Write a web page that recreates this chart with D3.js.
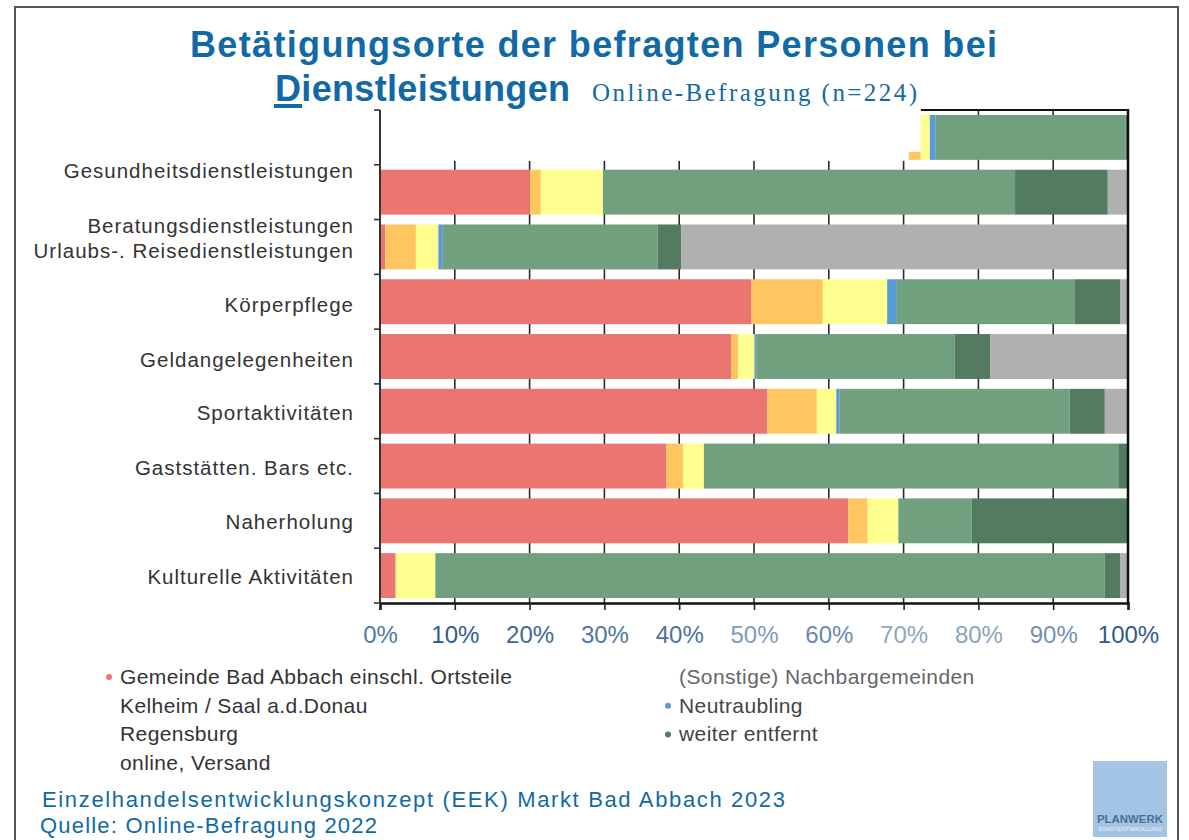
<!DOCTYPE html>
<html>
<head>
<meta charset="utf-8">
<script src="https://cdn.jsdelivr.net/npm/d3@7"></script>
<style>
  body { margin: 0; background: #fff; }
  svg { display: block; font-family: "Liberation Sans", Arial, sans-serif; }
</style>
</head>
<body>
<svg width="1189" height="840"></svg>
<script>
(function (d3) {
  'use strict';

  // categories, top to bottom
  const categories = [
    'Gesundheitsdienstleistungen',
    'Beratungsdienstleistungen',
    'Urlaubs-. Reisedienstleistungen',
    'Körperpflege',
    'Geldangelegenheiten',
    'Sportaktivitäten',
    'Gaststätten. Bars etc.',
    'Naherholung',
    'Kulturelle Aktivitäten'
  ];

  // shares in % per category (stack order left -> right)
  const gemeinde     = [60.0, 20.0,  0.7, 49.6, 47.0, 51.8, 38.3, 62.6,  2.1];
  const kelheim      = [12.3,  1.5,  4.1,  9.6,  0.9,  6.6,  2.2,  2.6,  0.0];
  const nachbar      = [ 1.2,  8.3,  3.0,  8.6,  2.2,  2.6,  2.8,  4.1,  5.3];
  const neutraubling = [ 0.8,  0.0,  0.6,  1.3,  0.2,  0.4,  0.0,  0.0,  0.0];
  const regensburg   = [25.4, 55.1, 28.7, 23.8, 26.5, 30.8, 55.4,  9.8, 89.5];
  const weiter       = [ 0.3, 12.4,  3.2,  6.1,  4.8,  4.7,  1.2, 20.9,  2.1];
  const online       = [ 0.0,  2.7, 59.7,  1.0, 18.4,  3.1,  0.1,  0.0,  1.0];

  const xTicks = [0, 10, 20, 30, 40, 50, 60, 70, 80, 90, 100];

  const legendLeft = [
    'Gemeinde Bad Abbach einschl. Ortsteile',
    'Kelheim / Saal a.d.Donau',
    'Regensburg',
    'online, Versand'
  ];
  const legendRight = [
    '(Sonstige) Nachbargemeinden',
    'Neutraubling',
    'weiter entfernt'
  ];

  const keys = ['gemeinde', 'kelheim', 'nachbar', 'neutraubling', 'regensburg', 'weiter', 'online'];
  const colors = {
    gemeinde: '#ec7572', kelheim: '#ffc660', nachbar: '#ffff90', neutraubling: '#5b9bd5',
    regensburg: '#71a07f', weiter: '#527b5f', online: '#b0b0b0'
  };
  const tickColors = ['#4d79a6', '#2f5b8c', '#3b6795', '#52769f', '#4d729c', '#7f9bbb',
                      '#6a89ad', '#8ea6c2', '#8ba3c0', '#7590b3', '#2f5b8c'];
  // label offsets seen in the slide (first two labels sit lower)
  const labelShift = [33, 34, 4, 3, 3, 2, 2, 1, 1];
  const blue = '#1169a6';

  const table = categories.map((c, i) => ({
    cat: c, gemeinde: gemeinde[i], kelheim: kelheim[i], nachbar: nachbar[i],
    neutraubling: neutraubling[i], regensburg: regensburg[i], weiter: weiter[i], online: online[i]
  }));

  const svg = d3.select('svg');

  const x = d3.scaleLinear().domain([0, 100]).range([380, 1128]);
  const y = d3.scaleBand().domain(categories).range([110, 603])
    .paddingInner(0.18).paddingOuter(0.09);

  // slide frame
  svg.append('path')
    .attr('d', 'M15,840 V7 H1178 V840')
    .attr('fill', 'none').attr('stroke', '#555').attr('stroke-width', 2);

  // gridlines
  svg.append('g').selectAll('line').data(xTicks.slice(1)).join('line')
    .attr('x1', d => x(d)).attr('x2', d => x(d))
    .attr('y1', 110).attr('y2', 603)
    .attr('stroke', '#2a2a2a').attr('stroke-width', 1.6);

  svg.append('line')
    .attr('x1', x(0)).attr('x2', x(100)).attr('y1', 110).attr('y2', 110)
    .attr('stroke', '#111').attr('stroke-width', 2);

  // stacked bars
  const series = d3.stack().keys(keys)(table);
  svg.append('g').selectAll('g').data(series).join('g')
    .attr('fill', s => colors[s.key])
    .selectAll('rect').data(s => s).join('rect')
      .attr('x', d => x(d[0]))
      .attr('y', d => y(d.data.cat))
      .attr('width', d => x(d[1]) - x(d[0]))
      .attr('height', y.bandwidth());

  // the title box hides most of the first bar in the slide,
  // only a small corner of the orange part stays visible
  const first = series[2][0];
  const bar1Bottom = y(categories[0]) + y.bandwidth();
  svg.append('rect')
    .attr('x', 20).attr('y', 100)
    .attr('width', x(first[0]) - 12 - 20)
    .attr('height', bar1Bottom + 1 - 100)
    .attr('fill', '#fff');
  svg.append('rect')
    .attr('x', 20).attr('y', 100)
    .attr('width', x(first[0]) - 20)
    .attr('height', bar1Bottom - 8 - 100)
    .attr('fill', '#fff');

  // axes
  const xAxis = d3.axisBottom(x)
    .tickValues(xTicks)
    .tickFormat(d => d + '%')
    .tickSize(7)
    .tickPadding(16);
  const xAxisG = svg.append('g')
    .attr('transform', 'translate(0,603)')
    .call(xAxis);
  xAxisG.select('.domain').attr('stroke', '#111').attr('stroke-width', 2.5);
  xAxisG.selectAll('.tick line').attr('stroke', '#222').attr('stroke-width', 1.6);
  xAxisG.selectAll('.tick text')
    .attr('font-size', 24)
    .attr('font-family', '"Liberation Sans", Arial, sans-serif')
    .attr('fill', (d, i) => tickColors[i]);

  svg.append('line')
    .attr('x1', x(0)).attr('x2', x(0)).attr('y1', 110).attr('y2', 604)
    .attr('stroke', '#333').attr('stroke-width', 2);
  svg.append('line')
    .attr('x1', x(100)).attr('x2', x(100)).attr('y1', 109).attr('y2', 604)
    .attr('stroke', '#111').attr('stroke-width', 2.5);

  const step = y.step();
  const bounds = categories.map(c => y(c) - step * 0.09).concat([603]);
  svg.append('g').selectAll('line').data(bounds).join('line')
    .attr('x1', x(0) - 6).attr('x2', x(0))
    .attr('y1', d => d).attr('y2', d => d)
    .attr('stroke', '#333').attr('stroke-width', 1.6);

  svg.append('g').selectAll('text').data(categories).join('text')
    .attr('x', 354)
    .attr('y', (d, i) => y(d) + y.bandwidth() / 2 + labelShift[i])
    .attr('dy', '0.35em')
    .attr('text-anchor', 'end')
    .attr('font-size', 20.5)
    .attr('letter-spacing', 1)
    .attr('fill', '#333')
    .text(d => d);

  // title
  svg.append('text')
    .attr('x', 190).attr('y', 57)
    .attr('textLength', 807).attr('lengthAdjust', 'spacing')
    .attr('font-size', 36).attr('font-weight', 'bold').attr('fill', blue)
    .text('Betätigungsorte der befragten Personen bei');
  svg.append('text')
    .attr('x', 275).attr('y', 101)
    .attr('textLength', 295).attr('lengthAdjust', 'spacing')
    .attr('font-size', 36).attr('font-weight', 'bold').attr('fill', blue)
    .text('Dienstleistungen');
  svg.append('rect')
    .attr('x', 274).attr('y', 104).attr('width', 28).attr('height', 4)
    .attr('fill', blue);
  svg.append('text')
    .attr('x', 592).attr('y', 101)
    .attr('textLength', 325).attr('lengthAdjust', 'spacing')
    .attr('font-family', '"Liberation Serif", "Times New Roman", serif')
    .attr('font-size', 25).attr('fill', blue)
    .text('Online-Befragung (n=224)');

  // legend
  const markers = {
    'Gemeinde Bad Abbach einschl. Ortsteile': colors.gemeinde,
    'Neutraubling': colors.neutraubling,
    'weiter entfernt': colors.weiter
  };
  const legendCols = [
    { items: legendLeft, x: 120, fill: '#333' },
    { items: legendRight, x: 679, fill: '#444' }
  ];
  legendCols.forEach((col, ci) => {
    const lg = svg.append('g');
    col.items.forEach((t, i) => {
      const yy = 684 + i * 28.7;
      if (markers[t]) {
        lg.append('circle')
          .attr('cx', col.x - 11).attr('cy', yy - 7).attr('r', 3)
          .attr('fill', markers[t]);
      }
      lg.append('text')
        .attr('x', col.x).attr('y', yy)
        .attr('font-size', 21)
        .attr('letter-spacing', 0.4)
        .attr('fill', ci === 1 && i === 0 ? '#666' : col.fill)
        .text(t);
    });
  });

  // footer
  svg.append('text')
    .attr('x', 42).attr('y', 807)
    .attr('textLength', 743).attr('lengthAdjust', 'spacing')
    .attr('font-size', 22).attr('fill', blue)
    .text('Einzelhandelsentwicklungskonzept (EEK) Markt Bad Abbach 2023');
  svg.append('text')
    .attr('x', 40).attr('y', 833)
    .attr('textLength', 337).attr('lengthAdjust', 'spacing')
    .attr('font-size', 22).attr('fill', blue)
    .text('Quelle: Online-Befragung 2022');

  // logo
  const logo = svg.append('g');
  logo.append('rect')
    .attr('x', 1093).attr('y', 761).attr('width', 74).attr('height', 76)
    .attr('fill', '#a3c4e4');
  logo.append('text')
    .attr('x', 1130).attr('y', 823).attr('text-anchor', 'middle')
    .attr('textLength', 66).attr('lengthAdjust', 'spacingAndGlyphs')
    .attr('font-size', 11).attr('font-weight', 'bold').attr('fill', '#4a6e96')
    .text('PLANWERK');
  logo.append('text')
    .attr('x', 1130).attr('y', 831).attr('text-anchor', 'middle')
    .attr('textLength', 64).attr('lengthAdjust', 'spacingAndGlyphs')
    .attr('font-size', 5).attr('fill', '#eef4fb')
    .text('STADTENTWICKLUNG');

}(d3));
</script>
</body>
</html>
